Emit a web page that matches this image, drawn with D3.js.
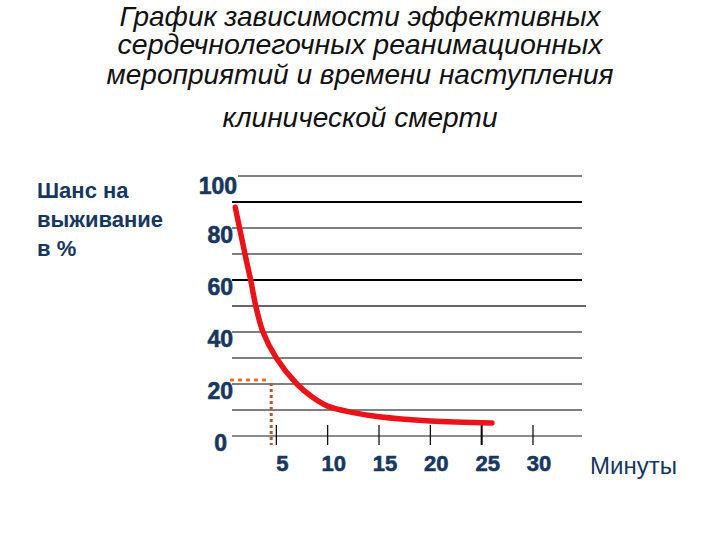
<!DOCTYPE html>
<html>
<head>
<meta charset="utf-8">
<script src="https://cdn.jsdelivr.net/npm/d3@7"></script>
<style>
  body { margin: 0; background: #fff; }
  svg { display: block; }
</style>
</head>
<body>
<div id="chart"></div>
<script>
// title lines
var titleLines = [
  'График зависимости эффективных',
  'сердечнолегочных реанимационных',
  'мероприятий и времени наступления',
  'клинической смерти'
]
var yTitleLines = ['Шанс на', 'выживание', 'в %']
var xTitle = 'Минуты'

// gridlines every 10 %, labels every 20 %
var gridValues = [0, 10, 20, 30, 40, 50, 60, 70, 80, 90, 100]
var yTickValues = [0, 20, 40, 60, 80, 100]
var xTickValues = [5, 10, 15, 20, 25, 30]

// survival chance (%) by minute
var minutes = [1, 2, 2.5, 3.0, 3.7, 5, 7, 8.5, 10, 12.5, 15, 20, 26]
var chance  = [88, 69, 60, 50, 40, 30, 20, 15, 11.5, 9, 7.4, 5.8, 5]

// dotted marker at ~4.5 min / ~21.5 %
var markerMinute = 4.5
var markerChance = 21.5

var width = 720
var height = 540

var svg = d3
  .select('#chart')
  .append('svg')
  .attr('width', width)
  .attr('height', height)

var x = d3.scaleLinear().domain([0, 30]).range([225, 533])
var y = d3.scaleLinear().domain([0, 100]).range([436, 176])

// title
var titleY = [26, 54, 84, 127]
var titleW = [481, 485, 507, 275]

svg
  .append('g')
  .selectAll('text')
  .data(titleLines)
  .enter()
  .append('text')
  .attr('x', 360)
  .attr('y', (d, i) => titleY[i])
  .attr('text-anchor', 'middle')
  .attr('font-family', '"Liberation Sans", Arial, sans-serif')
  .attr('font-style', 'italic')
  .attr('font-size', 28)
  .attr('fill', '#111')
  .attr('textLength', (d, i) => titleW[i])
  .attr('lengthAdjust', 'spacingAndGlyphs')
  .text(d => d)

// horizontal gridlines
svg
  .append('g')
  .selectAll('line')
  .data(gridValues)
  .enter()
  .append('line')
  .attr('x1', d => (d === 100 ? 238 : 232))
  .attr('x2', d => (d === 50 ? 586 : 582))
  .attr('y1', d => y(d))
  .attr('y2', d => y(d))
  .attr('stroke', d => (d === 0 || d === 50 ? '#666' : '#000'))
  .attr('stroke-width', d => (d === 90 || d === 60 || d === 50 ? 2.2 : d === 0 ? 1.6 : 1.2))

// x ticks
svg
  .append('g')
  .selectAll('line')
  .data(xTickValues)
  .enter()
  .append('line')
  .attr('x1', d => x(d))
  .attr('x2', d => x(d))
  .attr('y1', 425)
  .attr('y2', 445)
  .attr('stroke', '#000')
  .attr('stroke-width', d => (d === 25 ? 2 : 1.2))

// y labels
svg
  .append('g')
  .selectAll('text')
  .data(yTickValues)
  .enter()
  .append('text')
  .attr('x', d => (d === 0 ? 227 : d === 100 ? 237 : 233))
  .attr('y', d => y(d) + (d === 100 ? 18 : 15))
  .attr('text-anchor', 'end')
  .attr('font-family', '"Liberation Sans", Arial, sans-serif')
  .attr('font-weight', 'bold')
  .attr('font-size', 23)
  .attr('fill', '#17375e')
  .attr('stroke', '#17375e')
  .attr('stroke-width', 0.6)
  .text(d => d)

// x labels
svg
  .append('g')
  .selectAll('text')
  .data(xTickValues)
  .enter()
  .append('text')
  .attr('x', d => x(d) + 6)
  .attr('y', 471)
  .attr('text-anchor', 'middle')
  .attr('font-family', '"Liberation Sans", Arial, sans-serif')
  .attr('font-weight', 'bold')
  .attr('font-size', 22)
  .attr('fill', '#17375e')
  .attr('stroke', '#17375e')
  .attr('stroke-width', 0.6)
  .text(d => d)

// axis titles
svg
  .append('text')
  .attr('x', 590)
  .attr('y', 474)
  .attr('font-family', '"Liberation Sans", Arial, sans-serif')
  .attr('font-size', 24)
  .attr('fill', '#17375e')
  .text(xTitle)

svg
  .append('g')
  .selectAll('text')
  .data(yTitleLines)
  .enter()
  .append('text')
  .attr('x', 37)
  .attr('y', (d, i) => 198 + i * 29)
  .attr('font-family', '"Liberation Sans", Arial, sans-serif')
  .attr('font-weight', 'bold')
  .attr('font-size', 22)
  .attr('fill', '#17375e')
  .text(d => d)

// dotted marker
svg
  .append('line')
  .attr('x1', 230)
  .attr('x2', x(markerMinute) - 4)
  .attr('y1', y(markerChance))
  .attr('y2', y(markerChance))
  .attr('stroke', '#e0702a')
  .attr('stroke-width', 3)
  .attr('stroke-dasharray', '4,4')

svg
  .append('line')
  .attr('x1', x(markerMinute))
  .attr('x2', x(markerMinute))
  .attr('y1', y(markerChance) + 3)
  .attr('y2', 445)
  .attr('stroke', '#b0583a')
  .attr('stroke-width', 3)
  .attr('stroke-dasharray', '3,3')

// curve
var points = minutes.map((m, i) => [m, chance[i]])

var line = d3
  .line()
  .x(d => x(d[0]))
  .y(d => y(d[1]))
  .curve(d3.curveCatmullRom.alpha(0.5))

svg
  .append('path')
  .datum(points)
  .attr('d', line)
  .attr('fill', 'none')
  .attr('stroke', '#e8141a')
  .attr('stroke-width', 5.5)
  .attr('stroke-linecap', 'round')
</script>
</body>
</html>
